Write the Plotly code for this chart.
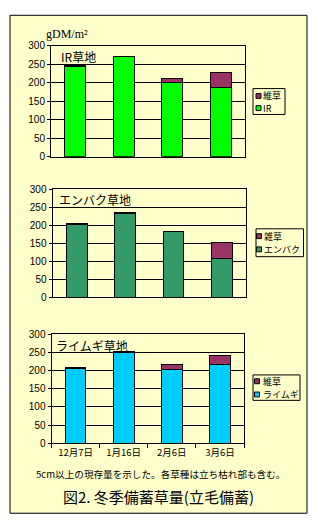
import plotly.graph_objects as go

W, H = 318, 529

categories = ["12月7日", "1月16日", "2月6日", "3月6日"]

ir_values = [245, 272, 200, 187]
ir_weeds = [2, 0, 12, 40]

oat_values = [202, 232, 181, 107]
oat_weeds = [2, 2, 2, 44]

rye_values = [207, 251, 204, 218]
rye_weeds = [2, 2, 12, 23]

y_ticks = [0, 50, 100, 150, 200, 250, 300]

panel_titles = ["IR草地", "エンバク草地", "ライムギ草地"]
crop_names = ["IR", "エンバク", "ライムギ"]
crop_colors = ["#00FF00", "#339966", "#00CCFF"]
weed_name = ["維草", "雑草", "維草"]
weed_color = "#993366"

JP = "Noto Sans CJK JP"

def px_x(x):
    return x / W

def px_y(y):
    return 1 - y / H

# plot areas in pixels (left, right, top, bottom)
areas = [(51, 245, 40.7, 154.3), (52.5, 246, 187.3, 298), (51.5, 244, 336, 447.3)]
# legend boxes (x0, x1, y0, y1), square x center, text x, row y centers
legend_boxes = [
    ((253, 285, 84.5, 111), 258.5, 262, (92, 104.5)),
    ((256, 303.5, 228, 256.5), 259, 262.5, (235.5, 249)),
    ((253, 300, 377.5, 403.5), 257, 262, (384, 397.5)),
]

fig = go.Figure()
data = [(ir_values, ir_weeds), (oat_values, oat_weeds), (rye_values, rye_weeds)]
for i, (vals, weeds) in enumerate(data):
    sfx = "" if i == 0 else str(i + 1)
    fig.add_trace(go.Bar(x=categories, y=vals, name=crop_names[i],
                         marker=dict(color=crop_colors[i], line=dict(color="black", width=1)),
                         xaxis="x" + sfx, yaxis="y" + sfx, hoverinfo="skip", showlegend=False))
    fig.add_trace(go.Bar(x=categories, y=weeds, name=weed_name[i],
                         marker=dict(color=weed_color, line=dict(color="black", width=1)),
                         xaxis="x" + sfx, yaxis="y" + sfx, hoverinfo="skip", showlegend=False))

layout = dict(
    width=W, height=H, margin=dict(l=0, r=0, t=0, b=0),
    paper_bgcolor="white", plot_bgcolor="#CCCCFF",
    barmode="stack", bargap=0.57,
    font=dict(family=JP, size=10, color="black"),
    showlegend=False,
)

for i, (l, r, t, b) in enumerate(areas):
    sfx = "" if i == 0 else str(i + 1)
    layout["xaxis" + sfx] = dict(
        domain=[px_x(l), px_x(r)], anchor="y" + sfx, type="category",
        showline=True, linecolor="black", linewidth=1, mirror=True,
        ticks="outside", tickson="boundaries", ticklen=4 if i == 2 else 0,
        tickcolor="black", showticklabels=(i == 2), showgrid=False, tickangle=0,
        tickfont=dict(family=JP, size=9.5), fixedrange=True,
    )
    layout["yaxis" + sfx] = dict(
        domain=[px_y(b), px_y(t)], anchor="x" + sfx, range=[0, 300],
        tickvals=y_ticks, showgrid=True, gridcolor="black", gridwidth=1,
        showline=True, linecolor="black", linewidth=1, mirror=True,
        ticks="outside", ticklen=3, tickcolor="black", zeroline=False,
        tickfont=dict(family="Liberation Sans", size=10), fixedrange=True,
    )

fig.update_layout(**layout)

# outer yellow panel
fig.add_shape(type="rect", xref="paper", yref="paper",
              x0=px_x(10), x1=px_x(307), y0=px_y(519), y1=px_y(9.5),
              fillcolor="#FFFFCC", line=dict(color="black", width=1), layer="below")

# manual legends
for i, ((bx0, bx1, by0, by1), sqx, tx, rows) in enumerate(legend_boxes):
    fig.add_shape(type="rect", xref="paper", yref="paper",
                  x0=px_x(bx0), x1=px_x(bx1), y0=px_y(by1), y1=px_y(by0),
                  fillcolor="#FFFFCC", line=dict(color="black", width=1))
    entries = [(weed_name[i], weed_color), (crop_names[i], crop_colors[i])]
    for (name, col), ry in zip(entries, rows):
        fig.add_shape(type="rect", xref="paper", yref="paper",
                      x0=px_x(sqx - 2.5), x1=px_x(sqx + 2.5), y0=px_y(ry + 2.5), y1=px_y(ry - 2.5),
                      fillcolor=col, line=dict(color="black", width=1))
        fig.add_annotation(text=name, xref="paper", yref="paper", x=px_x(tx), y=px_y(ry),
                           xanchor="left", yanchor="middle", showarrow=False,
                           font=dict(family=JP, size=9), borderpad=0)

# unit label
fig.add_annotation(text="gDM/m²", xref="paper", yref="paper", x=px_x(44), y=px_y(29),
                   xanchor="left", yanchor="middle", showarrow=False,
                   font=dict(family="Liberation Serif", size=12))

# panel labels
label_pos = [(59, 52), (57, 198), (54, 347)]
for (lx, ly), txt in zip(label_pos, panel_titles):
    fig.add_annotation(text=txt, xref="paper", yref="paper", x=px_x(lx), y=px_y(ly),
                       xanchor="left", yanchor="middle", showarrow=False,
                       font=dict(family=JP, size=12))

fig.add_annotation(text="5cm以上の現存量を示した。各草種は立ち枯れ部も含む。", xref="paper", yref="paper",
                   x=px_x(160), y=px_y(479), xanchor="center", yanchor="middle", showarrow=False,
                   font=dict(family=JP, size=9.6))
fig.add_annotation(text="図2. 冬季備蓄草量(立毛備蓄)", xref="paper", yref="paper",
                   x=px_x(158), y=px_y(502), xanchor="center", yanchor="middle", showarrow=False,
                   font=dict(family=JP, size=15))

fig.write_html("out.html")
